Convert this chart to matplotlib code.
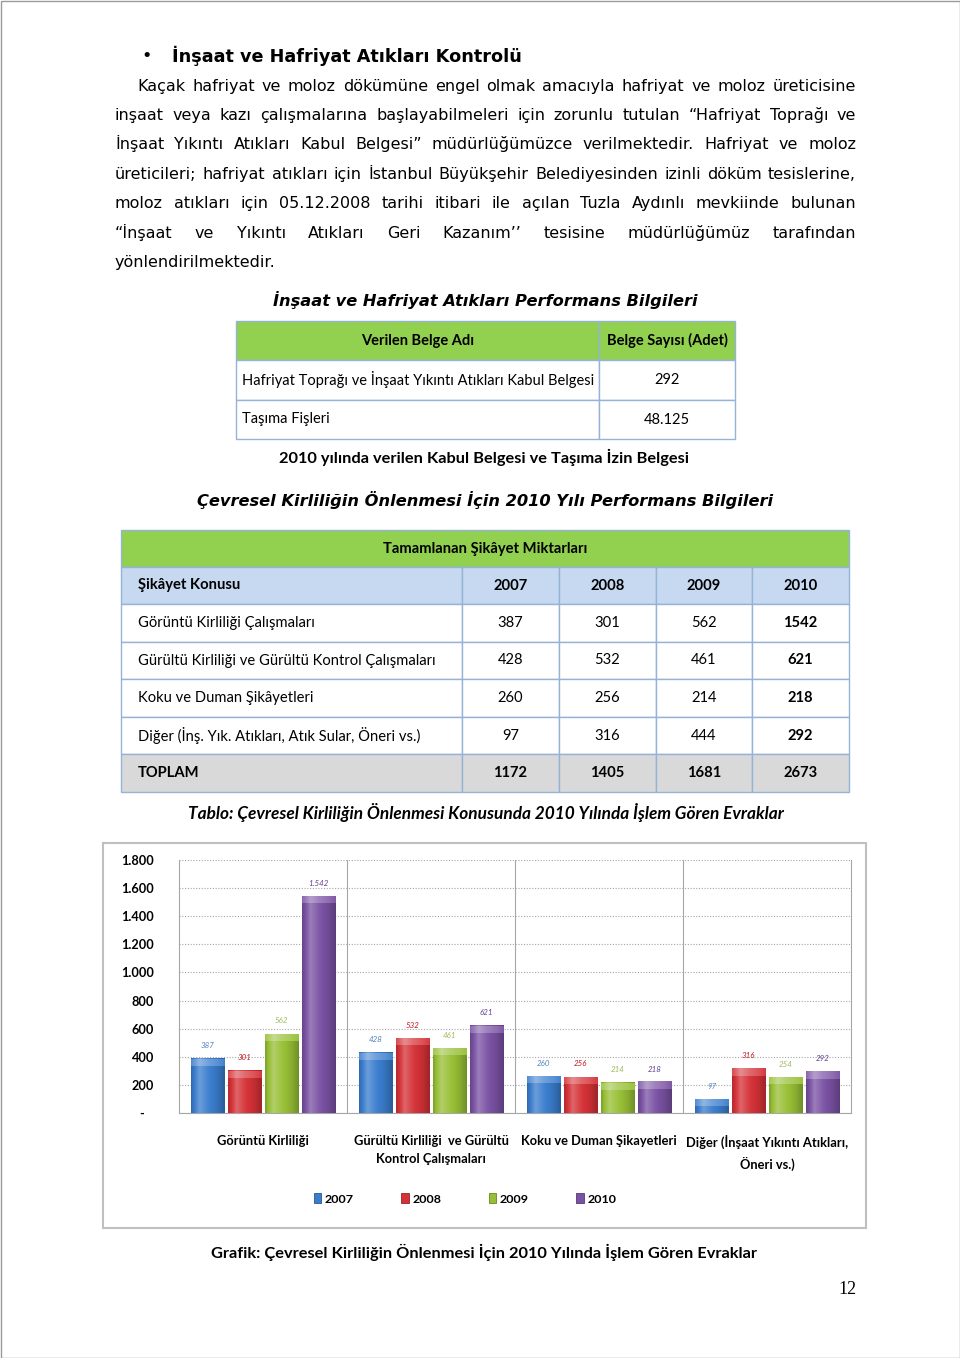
import matplotlib
matplotlib.use("Agg")
import matplotlib.pyplot as plt
import matplotlib.colors as mcolors
from matplotlib.patches import Rectangle
import numpy as np

# ---------------- data ----------------
intro_heading = "İnşaat ve Hafriyat Atıkları Kontrolü"
intro_lines = [
    "Kaçak hafriyat ve moloz dökümüne engel olmak amacıyla hafriyat ve moloz üreticisine",
    "inşaat veya kazı çalışmalarına başlayabilmeleri için zorunlu tutulan “Hafriyat Toprağı ve",
    "İnşaat Yıkıntı Atıkları Kabul Belgesi” müdürlüğümüzce verilmektedir. Hafriyat ve moloz",
    "üreticileri; hafriyat atıkları için İstanbul Büyükşehir Belediyesinden izinli döküm tesislerine,",
    "moloz atıkları için 05.12.2008 tarihi itibari ile açılan Tuzla Aydınlı mevkiinde bulunan",
    "“İnşaat ve Yıkıntı Atıkları Geri Kazanım’’ tesisine müdürlüğümüz tarafından",
    "yönlendirilmektedir.",
]
table1_title = "İnşaat ve Hafriyat Atıkları Performans Bilgileri"
table1_header = ["Verilen Belge Adı", "Belge Sayısı (Adet)"]
table1_names = ["Hafriyat Toprağı ve İnşaat Yıkıntı Atıkları Kabul Belgesi", "Taşıma Fişleri"]
table1_counts = ["292", "48.125"]
table1_caption = "2010 yılında verilen Kabul Belgesi ve Taşıma İzin Belgesi"

table2_title = "Çevresel Kirliliğin Önlenmesi İçin 2010 Yılı Performans Bilgileri"
table2_banner = "Tamamlanan Şikâyet Miktarları"
table2_header = ["Şikâyet Konusu", "2007", "2008", "2009", "2010"]
table2_subjects = ["Görüntü Kirliliği Çalışmaları",
                   "Gürültü Kirliliği ve Gürültü Kontrol Çalışmaları",
                   "Koku ve Duman Şikâyetleri",
                   "Diğer (İnş. Yık. Atıkları, Atık Sular, Öneri vs.)",
                   "TOPLAM"]
t2_2007 = [387, 428, 260, 97, 1172]
t2_2008 = [301, 532, 256, 316, 1405]
t2_2009 = [562, 461, 214, 444, 1681]
t2_2010 = [1542, 621, 218, 292, 2673]
table2_caption = "Tablo: Çevresel Kirliliğin Önlenmesi Konusunda 2010 Yılında İşlem Gören Evraklar"

chart_categories = ["Görüntü Kirliliği",
                    "Gürültü Kirliliği  ve Gürültü\nKontrol Çalışmaları",
                    "Koku ve Duman Şikayetleri",
                    "Diğer (İnşaat Yıkıntı Atıkları,\nÖneri vs.)"]
chart_years = ["2007", "2008", "2009", "2010"]
chart_2007 = [387, 428, 260, 97]
chart_2008 = [301, 532, 256, 316]
chart_2009 = [562, 461, 214, 254]
chart_2010 = [1542, 621, 218, 292]
chart_yticks = [0, 200, 400, 600, 800, 1000, 1200, 1400, 1600, 1800]
chart_caption = "Grafik: Çevresel Kirliliğin Önlenmesi İçin 2010 Yılında İşlem Gören Evraklar"
page_number = "12"

# ---------------- setup ----------------
W, H = 960, 1358
fig = plt.figure(figsize=(W / 100, H / 100), dpi=100)
fig.patch.set_facecolor("white")
page = fig.add_axes([0, 0, 1, 1])
page.set_xlim(0, W)
page.set_ylim(H, 0)
page.axis("off")
renderer = fig.canvas.get_renderer()

VERDANA = ["DejaVu Sans"]
CALIBRI = ["Lato", "DejaVu Sans"]
NARROW = ["Liberation Sans Narrow", "Lato", "DejaVu Sans"]
SERIF = ["Liberation Serif", "DejaVu Serif"]


def tw(s, size, **kw):
    t = page.text(0, 0, s, fontsize=size, **kw)
    w = t.get_window_extent(renderer).width
    t.remove()
    return w


def fit(s, target, **kw):
    return 20 * target / tw(s, 20, **kw)


def shade(c, f):
    c = np.array(mcolors.to_rgb(c))
    if f >= 1:
        return np.clip(c + (1 - c) * (f - 1), 0, 1)
    return np.clip(c * f, 0, 1)


# page border
page.add_patch(Rectangle((0.5, 0.5), W - 1, H - 1, fill=False, edgecolor="#9a9a9a", lw=1))

# ---------------- intro text ----------------
hsize = fit(intro_heading, 350, family=VERDANA, weight="bold")
page.text(147, 56, "•", fontsize=hsize, family=VERDANA, ha="center", va="center")
page.text(172, 56, intro_heading, fontsize=hsize, family=VERDANA, weight="bold",
          ha="left", va="center")

body_size = fit(intro_lines[-1], 160, family=VERDANA)
base_off = body_size * 100 / 72 * 0.37
line_y = [85, 114, 143, 173, 202, 232, 261]
line_x0 = [137, 115, 115, 115, 115, 115, 115]
right = 856
for k, (ln, y, x0) in enumerate(zip(intro_lines, line_y, line_x0)):
    yb = y + base_off
    if k == len(intro_lines) - 1:
        page.text(x0, yb, ln, fontsize=body_size, family=VERDANA, ha="left", va="baseline")
        continue
    words = ln.split()
    widths = [tw(w, body_size, family=VERDANA) for w in words]
    gap = (right - x0 - sum(widths)) / (len(words) - 1)
    xx = x0
    for w, wd in zip(words, widths):
        page.text(xx, yb, w, fontsize=body_size, family=VERDANA, ha="left", va="baseline")
        xx += wd + gap

# ---------------- table 1 ----------------
BORDER = "#95b3d7"
GREEN = "#92d050"
tsize = fit(table1_title, 423, family=VERDANA, weight="bold", style="italic")
page.text(485, 300, table1_title, fontsize=tsize, family=VERDANA, weight="bold",
          style="italic", ha="center", va="center")

t1_cols = [236, 599, 735]
t1_rows = [321, 360, 400, 439]
c1size = fit(table1_names[0], 351, family=CALIBRI)
for r in range(3):
    for c in range(2):
        fc = GREEN if r == 0 else "white"
        page.add_patch(Rectangle((t1_cols[c], t1_rows[r]), t1_cols[c + 1] - t1_cols[c],
                                 t1_rows[r + 1] - t1_rows[r], facecolor=fc,
                                 edgecolor=BORDER, lw=1))
for c in range(2):
    cx = (t1_cols[c] + t1_cols[c + 1]) / 2
    page.text(cx, (t1_rows[0] + t1_rows[1]) / 2, table1_header[c], fontsize=c1size,
              family=CALIBRI, weight="bold", ha="center", va="center")
for r, (nm, ct) in enumerate(zip(table1_names, table1_counts)):
    cy = (t1_rows[r + 1] + t1_rows[r + 2]) / 2
    page.text(t1_cols[0] + 6, cy, nm, fontsize=c1size, family=CALIBRI, ha="left", va="center")
    page.text((t1_cols[1] + t1_cols[2]) / 2, cy, ct, fontsize=c1size, family=CALIBRI,
              ha="center", va="center")
capsize = fit(table1_caption, 408, family=CALIBRI, weight="bold")
page.text(484, 457, table1_caption, fontsize=capsize, family=CALIBRI, weight="bold",
          ha="center", va="center")

# ---------------- table 2 ----------------
t2size = fit(table2_title, 573, family=VERDANA, weight="bold", style="italic")
page.text(485, 500, table2_title, fontsize=t2size, family=VERDANA, weight="bold",
          style="italic", ha="center", va="center")

t2_cols = [121, 462, 559, 656, 752, 849]
t2_rows = [530, 567, 604, 642, 679, 717, 754, 792]
c2size = fit(table2_subjects[1], 298, family=CALIBRI)
page.add_patch(Rectangle((t2_cols[0], t2_rows[0]), t2_cols[-1] - t2_cols[0],
                         t2_rows[1] - t2_rows[0], facecolor=GREEN, edgecolor=BORDER, lw=1))
page.text((t2_cols[0] + t2_cols[-1]) / 2, (t2_rows[0] + t2_rows[1]) / 2, table2_banner,
          fontsize=c2size, family=CALIBRI, weight="bold", ha="center", va="center")
cols_vals = [t2_2007, t2_2008, t2_2009, t2_2010]
for r in range(1, 7):
    if r == 1:
        fc = "#c6d9f1"
    elif r == 6:
        fc = "#d9d9d9"
    else:
        fc = "white"
    for c in range(5):
        page.add_patch(Rectangle((t2_cols[c], t2_rows[r]), t2_cols[c + 1] - t2_cols[c],
                                 t2_rows[r + 1] - t2_rows[r], facecolor=fc,
                                 edgecolor=BORDER, lw=1))
    cy = (t2_rows[r] + t2_rows[r + 1]) / 2
    if r == 1:
        texts = table2_header
        bold = [True] * 5
    else:
        i = r - 2
        texts = [table2_subjects[i]] + [str(v[i]) for v in cols_vals]
        bold = [r == 6] * 4 + [True]
    for c in range(5):
        if c == 0:
            page.text(t2_cols[0] + 17, cy, texts[c], fontsize=c2size, family=CALIBRI,
                      weight="bold" if bold[c] else "normal", ha="left", va="center")
        else:
            page.text((t2_cols[c] + t2_cols[c + 1]) / 2, cy, texts[c], fontsize=c2size,
                      family=CALIBRI, weight="bold" if bold[c] else "normal",
                      ha="center", va="center")
cap2size = fit(table2_caption, 595, family=CALIBRI, weight="bold", style="italic")
page.text(486, 812, table2_caption, fontsize=cap2size, family=CALIBRI, weight="bold",
          style="italic", ha="center", va="center")

# ---------------- chart ----------------
page.add_patch(Rectangle((103, 843), 866 - 103, 1228 - 843, fill=False,
                         edgecolor="#bfbfbf", lw=1.5))

ax_left, ax_right, ax_top, ax_bottom = 179, 851, 860, 1113
ax = fig.add_axes([ax_left / W, 1 - ax_bottom / H, (ax_right - ax_left) / W,
                   (ax_bottom - ax_top) / H])
ax.set_facecolor("none")

series = [chart_2007, chart_2008, chart_2009, chart_2010]
bar_colors = ["#3a7dcd", "#d43237", "#97bf35", "#7a52a3"]
label_colors = ["#4f81bd", "#c0141c", "#9bbb59", "#5f3f8c"]
val_size = fit("1.542", 20, family=NARROW, style="italic")
xpos = np.arange(len(chart_categories))
step, bw = 0.22, 0.2
px_per_unit = (ax_bottom - ax_top) / 1800.0
cap = 7 / px_per_unit
tgrid = np.linspace(0, 1, 40)
profile = np.interp(tgrid, [0, 0.25, 0.5, 0.8, 1], [0.85, 1.25, 1.05, 0.9, 0.75])
handles = []
for j, (vals, col) in enumerate(zip(series, bar_colors)):
    xs = xpos + (j - 1.5) * step
    bars = ax.bar(xs, vals, width=bw, color=col, edgecolor=shade(col, 0.7),
                  linewidth=0.6, zorder=3, label=chart_years[j])
    handles.append(bars)
    grad = np.array([shade(col, f) for f in profile])[None, :, :]
    capgrad = np.array([shade(col, 1.0 + (f - 0.7) * 0.8) for f in profile])[None, :, :]
    for b, v in zip(bars, vals):
        x0 = b.get_x()
        ax.imshow(grad, extent=(x0, x0 + bw, 0, v), aspect="auto", zorder=3.2,
                  interpolation="bilinear")
        ch = min(cap, v * 0.5)
        ax.imshow(capgrad, extent=(x0, x0 + bw, v - ch, v), aspect="auto", zorder=3.4,
                  interpolation="bilinear")
        lbl = f"{v:,}".replace(",", ".")
        ax.annotate(lbl, (x0 + bw / 2, v), xytext=(0, 9.5), textcoords="offset points",
                    ha="center", va="center", fontsize=val_size, style="italic",
                    family=NARROW, color=label_colors[j], zorder=5)

ax.set_xlim(-0.5, 3.5)
ax.set_ylim(0, 1800)
ax.set_axisbelow(True)
ax.yaxis.grid(True, color="#a6a6a6", linestyle=(0, (1, 1.5)), linewidth=0.8, zorder=0)
for s in [0.5, 1.5, 2.5]:
    ax.axvline(s, color="#a6a6a6", lw=0.8, zorder=1)
for sp in ["left", "right", "bottom"]:
    ax.spines[sp].set_color("#a6a6a6")
    ax.spines[sp].set_linewidth(0.8)
ax.spines["top"].set_visible(False)
ax.tick_params(length=0)

ytick_size = fit("1.800", 33, family=NARROW, weight="bold")
ax.set_yticks(chart_yticks)
ax.set_yticklabels(["-   " if v == 0 else f"{v:,}".replace(",", ".") for v in chart_yticks],
                   fontsize=ytick_size, family=NARROW, fontweight="bold")
ax.tick_params(axis="y", pad=18)

cat_size = fit("Koku ve Duman Şikayetleri", 155, family=NARROW, weight="bold")
ax.set_xticks(xpos)
ax.set_xticklabels(chart_categories, fontsize=cat_size, family=NARROW, fontweight="bold",
                   linespacing=1.6)
ax.tick_params(axis="x", pad=16)

leg_size = fit("2007", 29, family=NARROW, weight="bold")
leg = ax.legend(handles=handles, labels=chart_years, loc="center",
                bbox_to_anchor=(465 / W, 1 - 1199 / H), bbox_transform=fig.transFigure,
                ncol=4, frameon=False, handlelength=0.6, handleheight=0.8,
                handletextpad=0.3, columnspacing=3.8,
                prop={"family": NARROW, "weight": "bold", "size": leg_size})

gsize = fit(chart_caption, 544, family=CALIBRI, weight="bold")
page.text(484, 1252, chart_caption, fontsize=gsize, family=CALIBRI, weight="bold",
          ha="center", va="center")
page.text(857, 1290, page_number, fontsize=13, family=SERIF, ha="right", va="center")

fig.savefig("out.png", dpi=100, facecolor="white")
